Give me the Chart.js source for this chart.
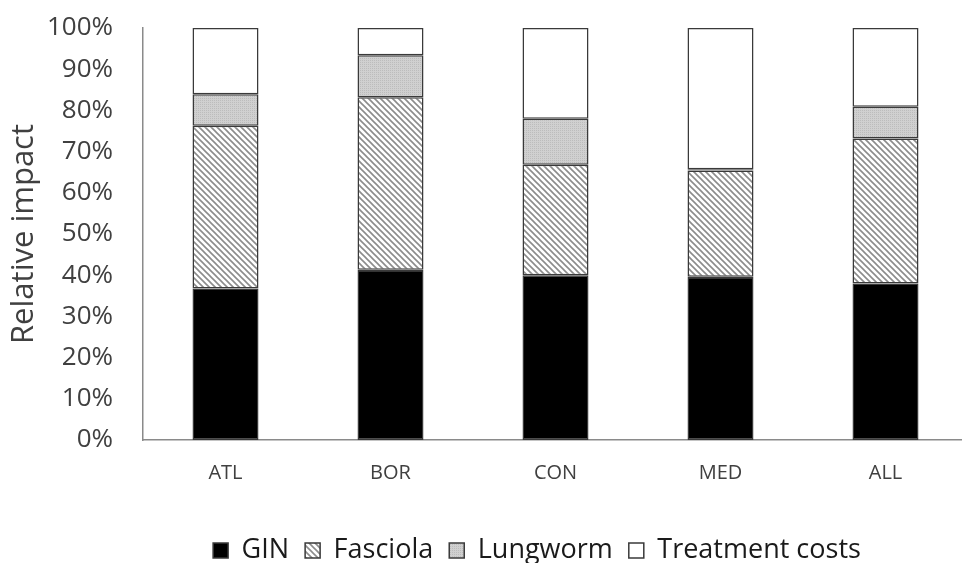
<!DOCTYPE html>
<html lang="en">
<head>
    <meta charset="UTF-8">
    <title>Relative impact</title>
    <script src="https://cdn.jsdelivr.net/npm/chart.js"></script>
    <style>
        html, body { margin: 0; padding: 0; overflow: hidden; background: #fff; }
        #wrap { width: 968px; height: 563px; }
    </style>
</head>
<body>
    <div id="wrap"><canvas id="chart"></canvas></div>

    <script>
        // Datos (%)
        const categories = ['ATL', 'BOR', 'CON', 'MED', 'ALL'];
        const gin = [36.8, 41.3, 40.0, 39.6, 38.0];
        const fasciola = [39.5, 41.9, 26.8, 25.8, 35.2];
        const lungworm = [7.6, 10.2, 11.2, 0.3, 7.7];
        const treatment = [16.1, 6.6, 22.0, 34.3, 19.1];

        // Rayado diagonal para Fasciola
        function hatch() {
            const c = document.createElement('canvas');
            c.width = 6; c.height = 6;
            const g = c.getContext('2d');
            g.fillStyle = '#fff';
            g.fillRect(0, 0, 6, 6);
            g.strokeStyle = '#8c8c8c';
            g.lineWidth = 1.6;
            g.beginPath();
            g.moveTo(-1, -1); g.lineTo(7, 7);
            g.moveTo(-4, 2); g.lineTo(4, 10);
            g.moveTo(2, -4); g.lineTo(10, 4);
            g.stroke();
            return g.createPattern(c, 'repeat');
        }

        // Punteado gris para Lungworm
        function dots() {
            const c = document.createElement('canvas');
            c.width = 2; c.height = 2;
            const g = c.getContext('2d');
            g.fillStyle = '#d0d0d0';
            g.fillRect(0, 0, 2, 2);
            g.fillStyle = '#bcbcbc';
            g.fillRect(0, 0, 1, 1);
            return g.createPattern(c, 'repeat');
        }

        const border = '#3a3a3a';
        const base = { borderColor: border, borderWidth: 1.5, borderSkipped: false,
                       categoryPercentage: 1, barPercentage: 0.4 };

        // Mover la leyenda para colocarla como en la figura
        const legendShift = {
            id: 'legendShift',
            afterLayout(chart) {
                chart.legend.left += 53;
                chart.legend.right += 53;
                chart.legend.top += 11;
                chart.legend.bottom += 11;
            }
        };

        const ctx = document.getElementById('chart').getContext('2d');
        new Chart(ctx, {
            type: 'bar',
            data: {
                labels: categories,
                datasets: [
                    { ...base, label: 'GIN', data: gin, backgroundColor: '#000' },
                    { ...base, label: 'Fasciola', data: fasciola, backgroundColor: hatch() },
                    { ...base, label: 'Lungworm', data: lungworm, backgroundColor: dots() },
                    { ...base, label: 'Treatment costs', data: treatment, backgroundColor: '#fff' }
                ]
            },
            plugins: [legendShift],
            options: {
                responsive: true,
                maintainAspectRatio: false,
                animation: false,
                layout: { padding: { top: 28, left: 0, right: 0, bottom: 0 } },
                plugins: {
                    tooltip: { enabled: false },
                    legend: {
                        position: 'bottom',
                        labels: {
                            color: '#1a1a1a',
                            font: { family: 'Open Sans', size: 27 },
                            boxWidth: 15,
                            boxHeight: 15,
                            padding: 16
                        }
                    }
                },
                scales: {
                    x: {
                        stacked: true,
                        grid: { display: false, drawTicks: false },
                        border: { display: true, color: '#8a8a8a', width: 1.5 },
                        ticks: {
                            color: '#404040',
                            font: { family: 'Open Sans', size: 20 },
                            padding: 21
                        },
                        afterFit(scale) { scale.height = 70; }
                    },
                    y: {
                        stacked: true,
                        min: 0,
                        max: 100,
                        grid: { display: false, drawTicks: false },
                        border: { display: true, color: '#8a8a8a', width: 1.5 },
                        ticks: {
                            stepSize: 10,
                            color: '#404040',
                            font: { family: 'Open Sans', size: 26 },
                            padding: 30,
                            callback: v => v + '%'
                        },
                        title: {
                            display: true,
                            text: 'Relative impact',
                            color: '#404040',
                            font: { family: 'Open Sans', size: 31 },
                            padding: { top: 6, bottom: 0 }
                        },
                        afterFit(scale) {
                            scale.width = 143;
                            scale.paddingTop = 15;
                            scale.paddingBottom = 15;
                        }
                    }
                }
            }
        });
    </script>
</body>
</html>
